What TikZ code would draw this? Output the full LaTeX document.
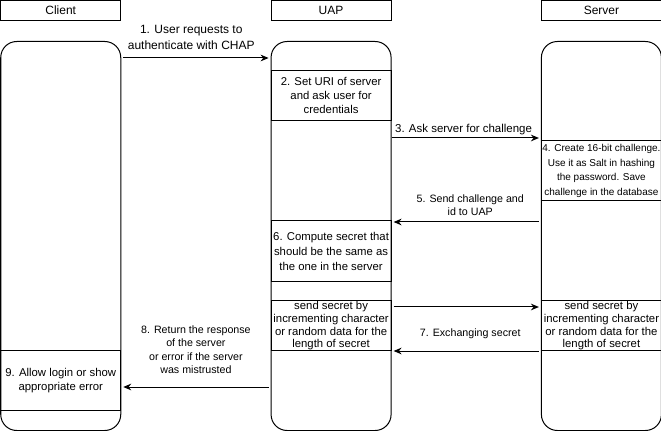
\documentclass[tikz,border=0pt]{standalone}
\usepackage{tikz}
\usepackage{xcolor}
\usepackage{fontspec}
\setmainfont{Liberation Sans}
\usetikzlibrary{arrows.meta, positioning}
\tikzstyle{header} = [rectangle, minimum width=90pt, minimum height=15pt, inner sep=0pt, text centered, draw=black, fill=white, font=\fontsize{9}{11}\selectfont]
\tikzstyle{lifeline} = [rectangle, rounded corners=12pt, minimum width=90pt, minimum height=291.75pt, draw=black, fill=white]
\tikzstyle{cell} = [rectangle, minimum width=90pt, inner sep=0pt, align=center, draw=black, font=\fontsize{8.5}{10.5}\selectfont]
\tikzstyle{arrow} = [-{Stealth[length=6pt, width=5pt]}, shorten >=1.5pt, shorten <=1.5pt]
\tikzstyle{msg} = [inner sep=0pt, align=center, font=\fontsize{8}{10}\selectfont]

\begin{document}
\begin{tikzpicture}[x=0.75pt, y=-0.75pt, line width=0.75pt]
\useasboundingbox (0,0) rectangle (661,431);

% Actors
\node (client) [header] at (60.75,10.5) {Client};
\node (uap) [header, right=112pt of client] {UAP};
\node (server) [header, right=112pt of uap] {Server};

% Lifelines
\node (clientLine) [lifeline, below=15pt of client] {};
\node (uapLine) [lifeline, below=15pt of uap] {};
\node (serverLine) [lifeline, below=15pt of server] {};

% Steps
\node (allowLogin) [cell, minimum height=45pt, below=232pt of clientLine.north] {9. Allow login or show\\appropriate error};
\node (setUri) [cell, minimum height=37.5pt, below=22pt of uapLine.north] {2. Set URI of server\\and ask user for\\credentials};
\node (compute) [cell, minimum height=45.75pt, below=134.5pt of uapLine.north, font=\fontsize{8.5}{11}\selectfont] {6. Compute secret that\\should be the same as\\the one in the server};
\node (sendUap) [cell, minimum height=37.5pt, below=194.5pt of uapLine.north, font=\fontsize{8.5}{9.6}\selectfont] {send secret by\\incrementing character\\or random data for the\\length of secret};
\node (challenge) [cell, minimum height=45pt, below=74.5pt of serverLine.north, font=\fontsize{7.5}{11}\selectfont] {4. Create 16-bit challenge.\\Use it as Salt in hashing\\the password. Save\\challenge in the database};
\node (sendServer) [cell, minimum height=37.5pt, below=194.5pt of serverLine.north, font=\fontsize{8.5}{9.6}\selectfont] {send secret by\\incrementing character\\or random data for the\\length of secret};

% Messages
\draw [arrow] (clientLine.east |- 0,58) -- node[msg, above=6pt, xshift=-3.5pt, font=\fontsize{9}{12}\selectfont] {1. User requests to\\authenticate with CHAP} (uapLine.west |- 0,58);
\draw [arrow, shorten <=0pt] (uapLine.east |- 0,138) -- node[msg, above=2pt, xshift=-2pt, font=\fontsize{8.6}{11}\selectfont] {3. Ask server for challenge} (serverLine.west |- 0,138);
\draw [arrow] (serverLine.west |- 0,222) -- node[msg, above=4.5pt, xshift=3pt, font=\fontsize{8}{9.75}\selectfont] {5. Send challenge and\\id to UAP} (uapLine.east |- 0,222);
\draw [arrow] (sendUap.east |- 0,307) -- (sendServer.west |- 0,307);
\draw [arrow] (sendServer.west |- 0,351) -- node[msg, above=9pt, xshift=3pt] {7. Exchanging secret} (sendUap.east |- 0,351);
\draw [arrow] (uapLine.west |- 0,387) -- node[msg, above=9.75pt] {8. Return the response\\of the server\\or error if the server\\was mistrusted} (clientLine.east |- 0,387);

\end{tikzpicture}
\end{document}
